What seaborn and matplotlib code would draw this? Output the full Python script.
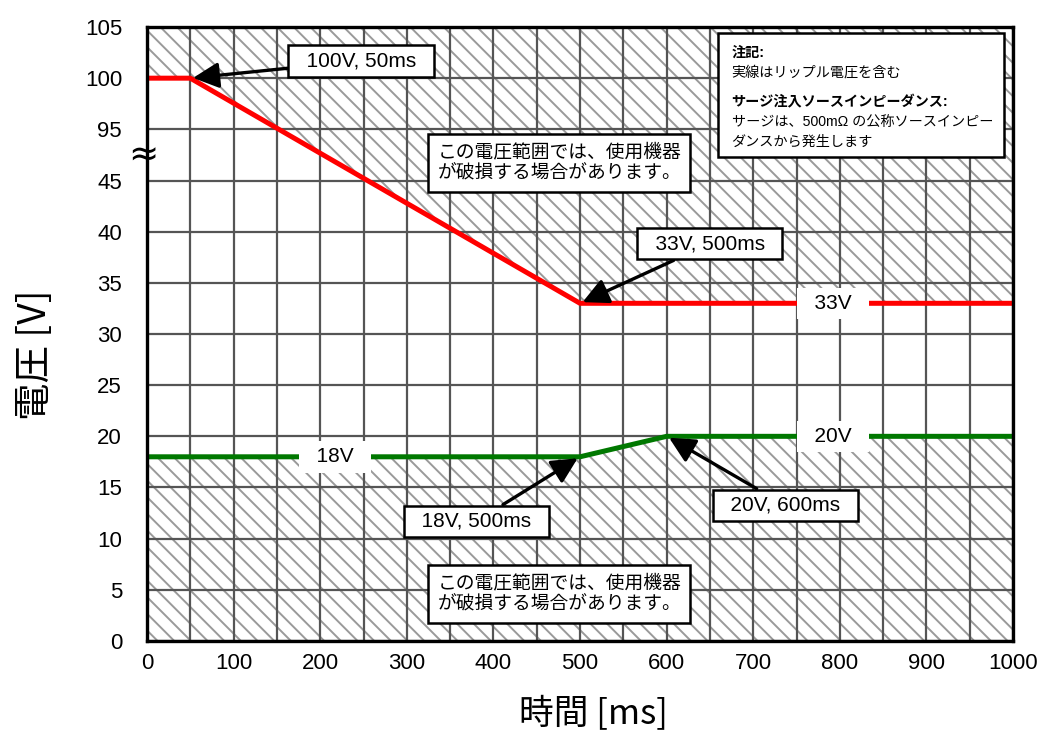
import numpy as np
import pandas as pd
import matplotlib
matplotlib.use("Agg")
import matplotlib.pyplot as plt
import seaborn as sns
from matplotlib import font_manager

# dados
t_sup = [0, 50, 500, 1000]
v_sup = [100, 100, 33, 33]
t_inf = [0, 500, 600, 1000]
v_inf = [18, 18, 20, 20]

y_ticks = [0, 5, 10, 15, 20, 25, 30, 35, 40, 45, 95, 100, 105]
x_ticks = [0, 100, 200, 300, 400, 500, 600, 700, 800, 900, 1000]

aviso = "この電圧範囲では、使用機器\nが破損する場合があります。"
notas = [("注記:", "bold"),
         ("実線はリップル電圧を含む", "normal"),
         ("", "normal"),
         ("サージ注入ソースインピーダンス:", "bold"),
         ("サージは、500mΩ の公称ソースインピー", "normal"),
         ("ダンスから発生します", "normal")]

df_sup = pd.DataFrame({"t": t_sup, "v": v_sup})
df_inf = pd.DataFrame({"t": t_inf, "v": v_inf})

sns.set_theme(style="white")
plt.rcParams['font.family'] = ['Liberation Sans', 'Noto Sans CJK JP', 'DejaVu Sans']
plt.rcParams['hatch.linewidth'] = 1.4
plt.rcParams['text.color'] = 'black'
plt.rcParams['axes.labelcolor'] = 'black'
plt.rcParams['xtick.color'] = 'black'
plt.rcParams['ytick.color'] = 'black'

nomes = {f.name for f in font_manager.fontManager.ttflist}
fonte_narrow = 'Liberation Sans Narrow' if 'Liberation Sans Narrow' in nomes else 'Liberation Sans'

fig = plt.figure(figsize=(10.6, 7.4), dpi=100)
ax = fig.add_axes([0.1387, 0.1338, 0.817, 0.8297])


# eixo y quebrado entre 45 e 95
def ida(v):
    v = np.asarray(v, dtype=float)
    return np.where(v > 70, v - 45, v)


def volta(d):
    d = np.asarray(d, dtype=float)
    return np.where(d > 47.5, d + 45, d)


ax.set_yscale('function', functions=(ida, volta))
ax.set_xlim(0, 1000)
ax.set_ylim(0, 105)

# áreas proibidas (hachuradas)
ax.fill_between(t_sup, v_sup, 105, facecolor='white', edgecolor='#9a9a9a',
                hatch='\\\\', linewidth=0, zorder=1)
ax.fill_between(t_inf, 0, v_inf, facecolor='white', edgecolor='#9a9a9a',
                hatch='\\\\', linewidth=0, zorder=1)

# grade
for x in range(0, 1001, 50):
    ax.axvline(x, color='#555555', lw=1.6, zorder=2)
for y in y_ticks:
    ax.axhline(y, color='#555555', lw=1.6, zorder=2)

sns.lineplot(data=df_sup, x="t", y="v", color='#ff0000', lw=3.6, ax=ax,
             estimator=None, zorder=3)
sns.lineplot(data=df_inf, x="t", y="v", color='#007800', lw=3.6, ax=ax,
             estimator=None, zorder=3)

# rótulos sobre as linhas
for x, y, s in [(217, 18, "18V"), (792, 33, "33V"), (792, 20, "20V")]:
    ax.text(x, y, "  " + s + "  ", ha='center', va='center', fontsize=15,
            zorder=4, bbox=dict(boxstyle='square,pad=0.3', fc='white', ec='none'))

caixa = dict(boxstyle='square,pad=0.3', fc='white', ec='black', lw=1.8)
seta = dict(arrowstyle='-|>,head_length=0.6,head_width=0.3', color='black', lw=2.4,
            mutation_scale=26, shrinkA=0, shrinkB=2)

pontos = [("100V, 50ms", (50, 100), (0.247, 0.945)),
          ("33V, 500ms", (500, 33), (0.650, 0.647)),
          ("18V, 500ms", (500, 18), (0.380, 0.195)),
          ("20V, 600ms", (600, 20), (0.737, 0.221))]
for s, xy, xyt in pontos:
    ax.annotate("  " + s + "  ", xy=xy, xytext=xyt, textcoords='axes fraction',
                ha='center', va='center', fontsize=15, zorder=5,
                bbox=caixa, arrowprops=seta)

for fy in [0.778, 0.0765]:
    ax.text(0.476, fy, aviso, transform=ax.transAxes, ha='center', va='center',
            fontsize=13.5, linespacing=1.3, zorder=5,
            bbox=dict(boxstyle='square,pad=0.5', fc='white', ec='black', lw=1.8))

# caixa de notas
ax.add_patch(plt.Rectangle((0.659, 0.788), 0.331, 0.202, transform=ax.transAxes,
                           fc='white', ec='black', lw=1.8, zorder=5))
for (s, peso), fy in zip(notas, [0.958, 0.926, 0.894, 0.877, 0.845, 0.813]):
    if s:
        ax.text(0.675, fy, s, transform=ax.transAxes, ha='left', va='center',
                fontsize=10.2, fontweight=peso, zorder=6)

# marca de quebra
ax.text(-0.004, 0.79, "≈", transform=ax.transAxes, ha='center', va='center',
        fontsize=26, family='DejaVu Sans', zorder=7)

ax.set_xticks(x_ticks)
ax.set_xticklabels([str(x) for x in x_ticks], family=fonte_narrow, fontsize=16)
ax.set_yticks(y_ticks)
ax.set_yticklabels([str(y) for y in y_ticks], fontsize=16)
ax.tick_params(axis='x', length=0, pad=9, labelcolor='black')
ax.tick_params(axis='y', direction='in', length=4, width=1, pad=18,
               color='#555555', labelcolor='black')

for lado in ['left', 'bottom', 'top', 'right']:
    ax.spines[lado].set_visible(True)
    ax.spines[lado].set_color('black')
    ax.spines[lado].set_linewidth(2.4)
    ax.spines[lado].set_zorder(8)

ax.set_xlabel("時間 [ms]", fontsize=25, family=['Noto Sans CJK JP'])
ax.set_ylabel("電圧 [V]", fontsize=27, family=['Noto Sans CJK JP'])
ax.xaxis.set_label_coords(0.515, -0.12)
ax.yaxis.set_label_coords(-0.129, 0.466)
ax.xaxis.label.set_va('center')
ax.yaxis.label.set_va('center')

fig.savefig("out.png", dpi=100)
